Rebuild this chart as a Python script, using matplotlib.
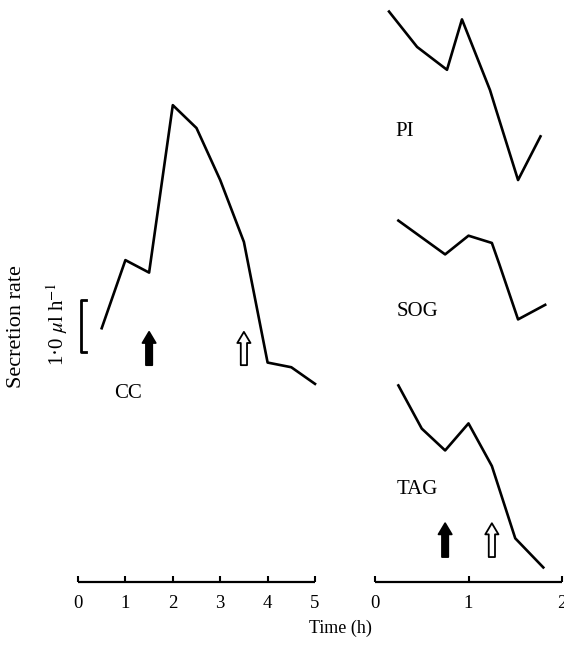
import matplotlib
matplotlib.use("Agg")
import matplotlib.pyplot as plt

plt.rcParams['font.family'] = ['Liberation Serif', 'DejaVu Serif']
plt.rcParams['mathtext.fontset'] = 'stix'

# ---- data (secretion rate in µl/h, arbitrary vertical offsets per trace) ----
cc_time = [0.5, 1.0, 1.5, 2.0, 2.5, 3.0, 3.5, 4.0, 4.5, 5.0]
cc_rate = [4.88, 6.19, 5.95, 9.17, 8.73, 7.73, 6.54, 4.22, 4.13, 3.81]

pi_time = [0.15, 0.45, 0.77, 0.93, 1.23, 1.29, 1.53, 1.77]
pi_rate = [10.97, 10.29, 9.85, 10.82, 9.46, 9.11, 7.73, 8.57]

sog_time = [0.25, 0.75, 1.0, 1.25, 1.33, 1.53, 1.82]
sog_rate = [6.95, 6.30, 6.66, 6.52, 6.11, 5.05, 5.33]

tag_time = [0.25, 0.5, 0.75, 1.0, 1.25, 1.5, 1.8]
tag_rate = [3.78, 2.95, 2.53, 3.05, 2.23, 0.84, 0.28]

left_ticks = [0, 1, 2, 3, 4, 5]
right_ticks = [0, 1, 2]

# arrows: (time, tip, base)  filled = start, open = end
left_filled_arrow = (1.5, 4.81, 4.17)
left_open_arrow = (3.5, 4.81, 4.17)
right_filled_arrow = (0.75, 1.13, 0.48)
right_open_arrow = (1.25, 1.13, 0.48)

W, H = 564, 648
fig = plt.figure(figsize=(W / 100, H / 100), dpi=100)

px_per_unit = 52.0
y_axis_px = 582
ytop = y_axis_px / px_per_unit


def make_ax(x0, x1, xmax):
    ax = fig.add_axes([x0 / W, (H - y_axis_px) / H, (x1 - x0) / W, y_axis_px / H])
    ax.set_xlim(0, xmax)
    ax.set_ylim(0, ytop)
    for s in ['left', 'right', 'top']:
        ax.spines[s].set_visible(False)
    ax.spines['bottom'].set_linewidth(1.6)
    ax.spines['bottom'].set_capstyle('butt')
    ax.set_yticks([])
    ax.tick_params(axis='x', direction='in', length=4, width=1.5, pad=9,
                   labelsize=13.5)
    ax.patch.set_alpha(0)
    return ax


axL = make_ax(78, 315, 5)
axR = make_ax(375, 562, 2)
axL.set_xticks(left_ticks)
axL.set_xticklabels([str(t) for t in left_ticks])
axR.set_xticks(right_ticks)
axR.set_xticklabels([str(t) for t in right_ticks])

lw = 1.9
axL.plot(cc_time, cc_rate, color='black', lw=lw, clip_on=False)
axR.plot(pi_time, pi_rate, color='black', lw=lw, clip_on=False)
axR.plot(sog_time, sog_rate, color='black', lw=lw, clip_on=False)
axR.plot(tag_time, tag_rate, color='black', lw=lw, clip_on=False)


def arrow(ax, spec, filled):
    t, tip, base = spec
    ax.annotate('', xy=(t, tip), xytext=(t, base),
                arrowprops=dict(arrowstyle='simple,head_length=0.8,head_width=0.95,tail_width=0.45',
                                fc='black' if filled else 'white', ec='black',
                                lw=1.3, shrinkA=0, shrinkB=0, mutation_scale=10))


arrow(axL, left_filled_arrow, True)
arrow(axL, left_open_arrow, False)
arrow(axR, right_filled_arrow, True)
arrow(axR, right_open_arrow, False)


# scale bar (1.0 µl/h)
def fx(px):
    return px / W


def fy(py):
    return 1 - py / H


bar_top, bar_bot = 300, 352
fig.add_artist(plt.Line2D([fx(86), fx(80.5), fx(80.5), fx(86)],
                          [fy(bar_top), fy(bar_top), fy(bar_bot), fy(bar_bot)],
                          color='black', lw=2.0))

fig.text(fx(17), fy(327), 'Secretion rate', rotation=90, ha='center', va='center',
         fontsize=16)
fig.text(fx(57), fy(324), '1·0 $\\mu$l h$^{-1}$', rotation=90, ha='center', va='center',
         fontsize=15)
fig.text(fx(128), fy(393), 'CC', ha='center', va='center', fontsize=15)
fig.text(fx(405), fy(132), 'PI', ha='center', va='center', fontsize=15)
fig.text(fx(417), fy(311), 'SOG', ha='center', va='center', fontsize=15)
fig.text(fx(417), fy(489), 'TAG', ha='center', va='center', fontsize=15)
fig.text(fx(340), fy(628), 'Time (h)', ha='center', va='center', fontsize=13)

fig.savefig('out.png', dpi=100)
